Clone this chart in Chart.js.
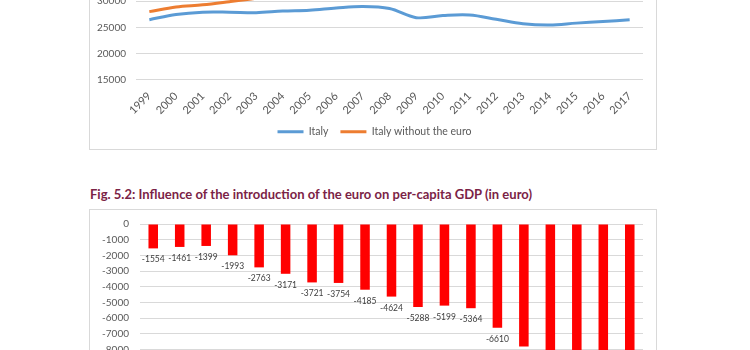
<!DOCTYPE html>
<html>
<head>
<meta charset="utf-8">
<script src="https://cdn.jsdelivr.net/npm/chart.js@4.4.0/dist/chart.umd.min.js"></script>
<style>
    html, body { margin: 0; padding: 0; background: #fff; width: 750px; height: 350px; overflow: hidden; position: relative; font-family: Lato, sans-serif; }
    .box { position: absolute; border: 1px solid #d9d9d9; box-sizing: border-box; background: #fff; }
    #top-box { left: 89px; top: -80px; width: 568px; height: 230px; }
    #bottom-box { left: 89px; top: 209px; width: 568px; height: 240px; }
    .wrap { position: absolute; left: 0; width: 565px; }
    #top-wrap { top: 12px; height: 215px; }
    #bottom-wrap { top: -3px; height: 222px; }
    #title { position: absolute; left: 90px; top: 186px; font: bold 13px Lato, sans-serif; color: #7b2346; white-space: nowrap; transform-origin: left center; }
</style>
</head>
<body>
<div class="box" id="top-box"><div class="wrap" id="top-wrap"><canvas id="line-chart"></canvas></div></div>
<div id="title">Fig. 5.2: Influence of the introduction of the euro on per-capita GDP (in euro)</div>
<div class="box" id="bottom-box"><div class="wrap" id="bottom-wrap"><canvas id="bar-chart"></canvas></div></div>
<script>
// Data
const years = ['1999', '2000', '2001', '2002', '2003', '2004', '2005', '2006', '2007', '2008',
    '2009', '2010', '2011', '2012', '2013', '2014', '2015', '2016', '2017'];
const italy = [26450, 27450, 27900, 27900, 27800, 28100, 28250, 28700, 29000, 28600,
    26850, 27250, 27350, 26550, 25700, 25450, 25800, 26100, 26450];
const italyWithoutEuro = [28000, 28900, 29300, 29900, 30550, 31300, 31950, 32450, 33200, 33200,
    32150, 32450, 32700, 33150, 33500, 33750, 34500, 35200, 35850];
const euroEffect = [-1554, -1461, -1399, -1993, -2763, -3171, -3721, -3754, -4185, -4624,
    -5288, -5199, -5364, -6610, -7800, -8300, -8700, -9100, -9400];

const grey = '#595959';
const gridColor = '#d9d9d9';
const tickFont = { family: 'Lato', size: 10 };

// fit the title to the width it has in the reference
const title = document.getElementById('title');
title.style.transform = 'scaleX(' + (442 / title.offsetWidth) + ')';

// the legend is centred on the whole box in the reference, not on the plot
const legendShift = {
    id: 'legendShift',
    afterLayout(chart) {
        chart.legend.left += 8;
        chart.legend.right += 8;
    }
};

new Chart(document.getElementById('line-chart'), {
    type: 'line',
    data: {
        labels: years,
        datasets: [{
            label: 'Italy',
            data: italy,
            borderColor: '#5b9bd5',
            backgroundColor: '#5b9bd5',
            borderWidth: 3,
            pointRadius: 0,
            tension: 0.35
        }, {
            label: 'Italy without the euro',
            data: italyWithoutEuro,
            borderColor: '#ed7d31',
            backgroundColor: '#ed7d31',
            borderWidth: 3,
            pointRadius: 0,
            tension: 0.35
        }]
    },
    plugins: [legendShift],
    options: {
        responsive: true,
        maintainAspectRatio: false,
        animation: false,
        layout: { padding: { top: 6, right: 12, left: 0, bottom: 1 } },
        scales: {
            x: {
                offset: true,
                grid: { display: false },
                border: { display: false },
                ticks: { color: grey, font: { family: 'Lato', size: 11 }, minRotation: 45, maxRotation: 45, padding: 2, autoSkip: false },
                afterFit: scale => { scale.height = 35; }
            },
            y: {
                min: 15000,
                max: 40000,
                grid: { color: gridColor, drawTicks: false },
                border: { display: false },
                ticks: { stepSize: 5000, color: grey, font: tickFont, padding: 10, callback: v => String(v) },
                afterFit: scale => { scale.width = 46; }
            }
        },
        plugins: {
            tooltip: { enabled: false },
            legend: {
                position: 'bottom',
                labels: {
                    color: grey,
                    font: { family: 'Lato', size: 10.5 },
                    usePointStyle: true,
                    pointStyle: 'line',
                    pointStyleWidth: 26,
                    padding: 12
                }
            }
        }
    }
});

// value labels under each bar
const barLabels = {
    id: 'barLabels',
    afterDatasetsDraw(chart) {
        const ctx = chart.ctx;
        const meta = chart.getDatasetMeta(0);
        ctx.save();
        ctx.font = '8.5px Lato';
        ctx.fillStyle = '#404040';
        ctx.textAlign = 'center';
        ctx.textBaseline = 'top';
        meta.data.forEach((bar, i) => {
            ctx.fillText(String(euroEffect[i]), bar.x, bar.y + 7);
        });
        ctx.restore();
    }
};

new Chart(document.getElementById('bar-chart'), {
    type: 'bar',
    data: {
        labels: years,
        datasets: [{
            data: euroEffect,
            backgroundColor: '#ff0000',
            barPercentage: 0.36,
            categoryPercentage: 1
        }]
    },
    plugins: [barLabels],
    options: {
        responsive: true,
        maintainAspectRatio: false,
        animation: false,
        layout: { padding: { top: 11, right: 12, left: 0, bottom: 18 } },
        scales: {
            x: {
                grid: { display: false },
                border: { display: false },
                ticks: { color: grey, font: tickFont, minRotation: 45, maxRotation: 45, autoSkip: false },
                afterFit: scale => { scale.height = 30; }
            },
            y: {
                min: -10000,
                max: 0,
                grid: { color: gridColor, drawTicks: false },
                border: { display: false },
                ticks: { stepSize: 1000, color: grey, font: tickFont, padding: 11, callback: v => String(v) },
                afterFit: scale => { scale.width = 50; }
            }
        },
        plugins: {
            tooltip: { enabled: false },
            legend: { display: false }
        }
    }
});
</script>
</body>
</html>
